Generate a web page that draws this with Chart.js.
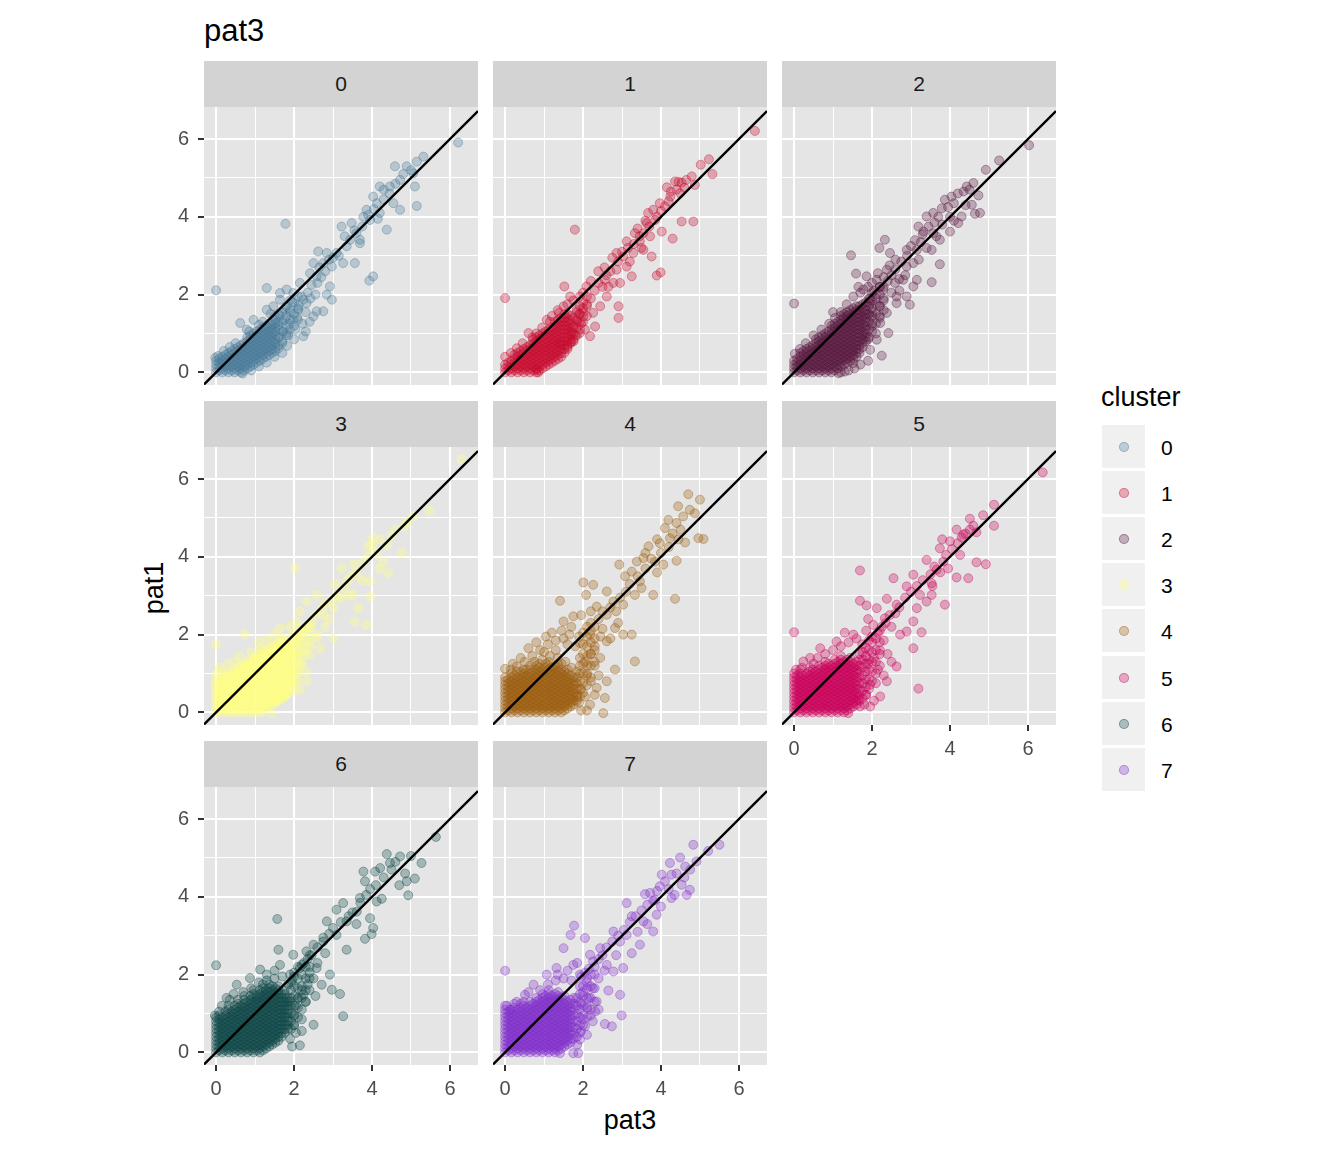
<!DOCTYPE html>
<html>
<head>
<meta charset="utf-8">
<title>pat3 vs pat1 by cluster</title>
<script src="https://cdn.jsdelivr.net/npm/chart.js@4.4.1/dist/chart.umd.min.js"></script>
<style>
  html, body { margin: 0; padding: 0; background: #ffffff; }
  body { position: relative; width: 1344px; height: 1152px; overflow: hidden;
         font-family: "Liberation Sans", Arial, sans-serif; }
  canvas, .strip, .txt, .key, .dot { position: absolute; }
  .strip { background: #D3D3D3; color: #1A1A1A; font-size: 21px;
           display: flex; align-items: center; justify-content: center; }
  .txt { line-height: 1; white-space: nowrap; }
  .key { width: 43px; height: 43px; background: #F0F0F0; }
  .dot { width: 10px; height: 10px; border-radius: 50%; box-sizing: border-box; }
</style>
</head>
<body>
<div class="txt" style="left:204px;top:15px;font-size:31px;color:#000">pat3</div>
<div class="txt" style="left:630px;top:1107px;font-size:27px;color:#000;transform:translateX(-50%)">pat3</div>
<div class="txt" style="left:154px;top:588px;font-size:27px;color:#000;transform:translate(-50%,-50%) rotate(-90deg)">pat1</div>
<div class="txt" style="left:1101px;top:384px;font-size:27px;color:#000">cluster</div>

<script>
/* ---------- data ---------- */

const clusters = ['0', '1', '2', '3', '4', '5', '6', '7'];
const clusterColors = ['#487A98', '#C80A2E', '#581840', '#FFFF85', '#9A5D0E', '#C9005A', '#0E4647', '#812FCA'];

const xRange = [-0.31, 6.72];   // pat3
const yRange = [-0.325, 6.825]; // pat1
const tickValues = [0, 1, 2, 3, 4, 5, 6]; // labels on even values, minor grid on odd
const abline = { intercept: 0, slope: 1 };

// dense cores near the origin: [pat3, [pat1 values]]
const core0 = [
  [0, [0, .1, .2, .3]], [.08, [.05, .15, .25, .35]], [.16, [0, .1, .2, .3, .4]],
  [.24, [.05, .15, .25, .35, .45]], [.32, [0, .1, .2, .3, .4, .5]], [.4, [.05, .15, .25, .35, .45, .55]],
  [.48, [0, .1, .2, .3, .4, .5, .6]], [.56, [.05, .15, .25, .35, .45, .55, .65]],
  [.64, [0, .1, .2, .3, .4, .5, .6, .7]], [.72, [.05, .15, .25, .35, .45, .55, .65, .75]],
  [.8, [.1, .2, .3, .4, .5, .6, .7, .8, .9]], [.88, [.15, .25, .35, .45, .55, .65, .75, .85, .95]],
  [.96, [.2, .3, .4, .5, .6, .7, .8, .9, 1]], [1.04, [.25, .35, .45, .55, .65, .75, .85, .95, 1.05]],
  [1.12, [.3, .4, .5, .6, .7, .8, .9, 1, 1.1]], [1.2, [.35, .45, .55, .65, .75, .85, .95, 1.05, 1.15]],
  [1.28, [.4, .5, .6, .7, .8, .9, 1, 1.1, 1.2]], [1.36, [.45, .55, .65, .75, .85, .95, 1.05, 1.15, 1.25]],
  [1.44, [.5, .6, .7, .8, .9, 1, 1.1, 1.2, 1.3]], [1.52, [.55, .65, .75, .85, .95, 1.05, 1.15, 1.25, 1.35]],
  [1.6, [.7, .9, 1.1, 1.3, 1.5]], [1.7, [.8, 1.05, 1.3, 1.55]], [1.8, [.95, 1.2, 1.45, 1.7]],
  [1.9, [1.1, 1.35, 1.6, 1.85]], [2, [1.2, 1.5, 1.8]], [2.1, [1.35, 1.65, 1.95]],
];
const core1 = [
  [0, [0, .1, .2]], [.08, [.05, .15, .25]], [.16, [0, .1, .2, .3]], [.24, [.05, .15, .25, .35, .45]],
  [.32, [0, .1, .2, .3, .4, .5]], [.4, [.05, .15, .25, .35, .45, .55]], [.48, [0, .1, .2, .3, .4, .5, .6]],
  [.56, [.05, .15, .25, .35, .45, .55, .65]], [.64, [0, .1, .2, .3, .4, .5, .6, .7]],
  [.72, [.05, .15, .25, .35, .45, .55, .65, .75, .85]], [.8, [0, .1, .2, .3, .4, .5, .6, .7, .8, .9]],
  [.88, [.05, .15, .25, .35, .45, .55, .65, .75, .85, .95]], [.96, [.1, .2, .3, .4, .5, .6, .7, .8, .9, 1]],
  [1.04, [.15, .25, .35, .45, .55, .65, .75, .85, .95, 1.05]], [1.12, [.2, .3, .4, .5, .6, .7, .8, .9, 1, 1.1]],
  [1.2, [.25, .35, .45, .55, .65, .75, .85, .95, 1.05, 1.15]], [1.28, [.3, .4, .5, .6, .7, .8, .9, 1, 1.1, 1.2, 1.3]],
  [1.36, [.35, .45, .55, .65, .75, .85, .95, 1.05, 1.15, 1.25, 1.35]],
  [1.44, [.4, .5, .6, .7, .8, .9, 1, 1.1, 1.2, 1.3, 1.4]],
  [1.52, [.5, .6, .7, .8, .9, 1, 1.1, 1.2, 1.3, 1.4, 1.5]],
  [1.6, [.6, .7, .8, .9, 1, 1.1, 1.2, 1.3, 1.4, 1.5]], [1.68, [.75, .85, .95, 1.05, 1.15, 1.25, 1.35, 1.45]],
  [1.76, [.8, 1, 1.2, 1.4]], [1.84, [.95, 1.15, 1.35, 1.55]], [1.92, [1.1, 1.3, 1.5, 1.7]],
  [2, [1.3, 1.55, 1.8]], [2.1, [1.45, 1.7, 1.95]],
];
const core2 = [
  [0, [0, .1, .2, .3]], [.08, [.05, .15, .25, .35]], [.16, [0, .1, .2, .3, .4, .5]],
  [.24, [.05, .15, .25, .35, .45, .55]], [.32, [0, .1, .2, .3, .4, .5, .6]],
  [.4, [.05, .15, .25, .35, .45, .55, .65]], [.48, [0, .1, .2, .3, .4, .5, .6, .7]],
  [.56, [.05, .15, .25, .35, .45, .55, .65, .75, .85]], [.64, [0, .1, .2, .3, .4, .5, .6, .7, .8, .9]],
  [.72, [.05, .15, .25, .35, .45, .55, .65, .75, .85, .95]], [.8, [0, .1, .2, .3, .4, .5, .6, .7, .8, .9, 1]],
  [.88, [.05, .15, .25, .35, .45, .55, .65, .75, .85, .95, 1.05]],
  [.96, [0, .1, .2, .3, .4, .5, .6, .7, .8, .9, 1, 1.1, 1.2]],
  [1.04, [.05, .15, .25, .35, .45, .55, .65, .75, .85, .95, 1.05, 1.15, 1.25]],
  [1.12, [.1, .2, .3, .4, .5, .6, .7, .8, .9, 1, 1.1, 1.2, 1.3]],
  [1.2, [.15, .25, .35, .45, .55, .65, .75, .85, .95, 1.05, 1.15, 1.25, 1.35, 1.45]],
  [1.28, [.2, .3, .4, .5, .6, .7, .8, .9, 1, 1.1, 1.2, 1.3, 1.4, 1.5]],
  [1.36, [.25, .35, .45, .55, .65, .75, .85, .95, 1.05, 1.15, 1.25, 1.35, 1.45, 1.55]],
  [1.44, [.3, .4, .5, .6, .7, .8, .9, 1, 1.1, 1.2, 1.3, 1.4, 1.5, 1.6]],
  [1.52, [.35, .45, .55, .65, .75, .85, .95, 1.05, 1.15, 1.25, 1.35, 1.45, 1.55, 1.65]],
  [1.6, [.4, .5, .6, .7, .8, .9, 1, 1.1, 1.2, 1.3, 1.4, 1.5, 1.6, 1.7]],
  [1.68, [.5, .6, .7, .8, .9, 1, 1.1, 1.2, 1.3, 1.4, 1.5, 1.6, 1.7]],
  [1.76, [.65, .75, .85, .95, 1.05, 1.15, 1.25, 1.35, 1.45, 1.55, 1.65, 1.75]],
  [1.84, [.8, .9, 1, 1.1, 1.2, 1.3, 1.4, 1.5, 1.6, 1.7, 1.8]],
  [1.92, [.9, 1.1, 1.3, 1.5, 1.7, 1.9]], [2, [1.05, 1.25, 1.45, 1.65, 1.85, 2.05]],
  [2.1, [1.25, 1.5, 1.75, 2]], [2.2, [1.4, 1.7, 2, 2.2]], [2.3, [1.6, 1.9, 2.2]],
];
const core3 = [
  [0, [0, .1, .2, .3, .4, .5, .6, .7, .8]], [.08, [.05, .15, .25, .35, .45, .55, .65, .75, .85]],
  [.16, [0, .1, .2, .3, .4, .5, .6, .7, .8, .9]], [.24, [.05, .15, .25, .35, .45, .55, .65, .75, .85, .95]],
  [.32, [0, .1, .2, .3, .4, .5, .6, .7, .8, .9, 1]], [.4, [.05, .15, .25, .35, .45, .55, .65, .75, .85, .95, 1.05]],
  [.48, [0, .1, .2, .3, .4, .5, .6, .7, .8, .9, 1, 1.1]],
  [.56, [.05, .15, .25, .35, .45, .55, .65, .75, .85, .95, 1.05, 1.15]],
  [.64, [0, .1, .2, .3, .4, .5, .6, .7, .8, .9, 1, 1.1, 1.2]],
  [.72, [.05, .15, .25, .35, .45, .55, .65, .75, .85, .95, 1.05, 1.15, 1.25]],
  [.8, [0, .1, .2, .3, .4, .5, .6, .7, .8, .9, 1, 1.1, 1.2, 1.3]],
  [.88, [.05, .15, .25, .35, .45, .55, .65, .75, .85, .95, 1.05, 1.15, 1.25, 1.35]],
  [.96, [0, .1, .2, .3, .4, .5, .6, .7, .8, .9, 1, 1.1, 1.2, 1.3, 1.4]],
  [1.04, [.05, .15, .25, .35, .45, .55, .65, .75, .85, .95, 1.05, 1.15, 1.25, 1.35, 1.45]],
  [1.12, [0, .1, .2, .3, .4, .5, .6, .7, .8, .9, 1, 1.1, 1.2, 1.3, 1.4, 1.5]],
  [1.2, [.05, .15, .25, .35, .45, .55, .65, .75, .85, .95, 1.05, 1.15, 1.25, 1.35, 1.45, 1.55]],
  [1.28, [.1, .2, .3, .4, .5, .6, .7, .8, .9, 1, 1.1, 1.2, 1.3, 1.4, 1.5, 1.6]],
  [1.36, [.15, .25, .35, .45, .55, .65, .75, .85, .95, 1.05, 1.15, 1.25, 1.35, 1.45, 1.55, 1.65]],
  [1.44, [.2, .3, .4, .5, .6, .7, .8, .9, 1, 1.1, 1.2, 1.3, 1.4, 1.5, 1.6, 1.7]],
  [1.52, [.25, .35, .45, .55, .65, .75, .85, .95, 1.05, 1.15, 1.25, 1.35, 1.45, 1.55, 1.65, 1.75]],
  [1.6, [.3, .4, .5, .6, .7, .8, .9, 1, 1.1, 1.2, 1.3, 1.4, 1.5, 1.6, 1.7, 1.8]],
  [1.68, [.35, .45, .55, .65, .75, .85, .95, 1.05, 1.15, 1.25, 1.35, 1.45, 1.55, 1.65, 1.75, 1.85]],
  [1.76, [.4, .5, .6, .7, .8, .9, 1, 1.1, 1.2, 1.3, 1.4, 1.5, 1.6, 1.7, 1.8]],
  [1.84, [.5, .6, .7, .8, .9, 1, 1.1, 1.2, 1.3, 1.4, 1.5, 1.6, 1.7, 1.8]],
  [1.92, [.6, .7, .8, .9, 1, 1.1, 1.2, 1.3, 1.4, 1.5, 1.6, 1.7, 1.8, 1.9]],
  [2, [.8, .95, 1.1, 1.25, 1.4, 1.55, 1.7, 1.85, 2]], [2.1, [1, 1.2, 1.4, 1.6, 1.8, 2]],
  [2.2, [1.3, 1.55, 1.8, 2.05]], [2.3, [1.5, 1.8, 2.1]], [2.4, [1.7, 2, 2.3]],
];
const core4 = [
  [0, [0, .1, .2, .3, .4, .5, .6, .7, .8, .9]], [.08, [.05, .15, .25, .35, .45, .55, .65, .75, .85]],
  [.16, [0, .1, .2, .3, .4, .5, .6, .7, .8, .9, 1]], [.24, [.05, .15, .25, .35, .45, .55, .65, .75, .85, .95]],
  [.32, [0, .1, .2, .3, .4, .5, .6, .7, .8, .9]], [.4, [.05, .15, .25, .35, .45, .55, .65, .75, .85, .95, 1.05]],
  [.48, [0, .1, .2, .3, .4, .5, .6, .7, .8, .9, 1, 1.1]], [.56, [.05, .15, .25, .35, .45, .55, .65, .75, .85, .95]],
  [.64, [0, .1, .2, .3, .4, .5, .6, .7, .8, .9, 1, 1.1, 1.2]],
  [.72, [.05, .15, .25, .35, .45, .55, .65, .75, .85, .95, 1.05]],
  [.8, [0, .1, .2, .3, .4, .5, .6, .7, .8, .9, 1, 1.1, 1.2]],
  [.88, [.05, .15, .25, .35, .45, .55, .65, .75, .85, .95, 1.05, 1.15, 1.25]],
  [.96, [0, .1, .2, .3, .4, .5, .6, .7, .8, .9, 1, 1.1]],
  [1.04, [.05, .15, .25, .35, .45, .55, .65, .75, .85, .95, 1.05, 1.15, 1.25]],
  [1.12, [0, .1, .2, .3, .4, .5, .6, .7, .8, .9, 1, 1.1, 1.2, 1.3]],
  [1.2, [.05, .15, .25, .35, .45, .55, .65, .75, .85, .95, 1.05, 1.15]],
  [1.28, [0, .1, .2, .3, .4, .5, .6, .7, .8, .9, 1, 1.1, 1.2]],
  [1.36, [.05, .15, .25, .35, .45, .55, .65, .75, .85, .95, 1.05, 1.15, 1.25]],
  [1.44, [0, .1, .2, .3, .4, .5, .6, .7, .8, .9, 1, 1.1]],
  [1.52, [.05, .15, .25, .35, .45, .55, .65, .75, .85, .95, 1.05]],
  [1.6, [.1, .2, .3, .4, .5, .6, .7, .8, .9, 1, 1.1]], [1.68, [.15, .25, .35, .45, .55, .65, .75, .85, .95]],
  [1.76, [.2, .3, .4, .5, .6, .7, .8, .9]], [1.84, [.3, .45, .6, .75, .9, 1.05]],
  [1.92, [.4, .6, .8, 1, 1.2, 1.4]], [2, [.5, .75, 1, 1.25, 1.5, 1.75]],
  [2.1, [.7, .95, 1.2, 1.45, 1.7, 1.95]], [2.2, [.9, 1.2, 1.5, 1.8, 2.1]], [2.3, [1.3, 1.6, 1.9, 2.2]],
];
const core5 = [
  [0, [0, .1, .2, .3, .4, .5, .6, .7, .8, .9, 1]], [.08, [.05, .15, .25, .35, .45, .55, .65, .75, .85, .95]],
  [.16, [0, .1, .2, .3, .4, .5, .6, .7, .8, .9, 1, 1.1]], [.24, [.05, .15, .25, .35, .45, .55, .65, .75, .85, .95]],
  [.32, [0, .1, .2, .3, .4, .5, .6, .7, .8, .9, 1]],
  [.4, [.05, .15, .25, .35, .45, .55, .65, .75, .85, .95, 1.05, 1.15]],
  [.48, [0, .1, .2, .3, .4, .5, .6, .7, .8, .9, 1, 1.1]],
  [.56, [.05, .15, .25, .35, .45, .55, .65, .75, .85, .95, 1.05]],
  [.64, [0, .1, .2, .3, .4, .5, .6, .7, .8, .9, 1, 1.1, 1.2]],
  [.72, [.05, .15, .25, .35, .45, .55, .65, .75, .85, .95, 1.05, 1.15]],
  [.8, [0, .1, .2, .3, .4, .5, .6, .7, .8, .9, 1, 1.1, 1.2, 1.3]],
  [.88, [.05, .15, .25, .35, .45, .55, .65, .75, .85, .95, 1.05, 1.15, 1.25]],
  [.96, [0, .1, .2, .3, .4, .5, .6, .7, .8, .9, 1, 1.1, 1.2]],
  [1.04, [.05, .15, .25, .35, .45, .55, .65, .75, .85, .95, 1.05, 1.15, 1.25, 1.35]],
  [1.12, [0, .1, .2, .3, .4, .5, .6, .7, .8, .9, 1, 1.1, 1.2, 1.3]],
  [1.2, [.05, .15, .25, .35, .45, .55, .65, .75, .85, .95, 1.05, 1.15, 1.25, 1.35, 1.45]],
  [1.28, [0, .1, .2, .3, .4, .5, .6, .7, .8, .9, 1, 1.1, 1.2, 1.3]],
  [1.36, [.05, .15, .25, .35, .45, .55, .65, .75, .85, .95, 1.05, 1.15, 1.25, 1.35]],
  [1.44, [.1, .2, .3, .4, .5, .6, .7, .8, .9, 1, 1.1, 1.2, 1.3, 1.4]],
  [1.52, [.15, .25, .35, .45, .55, .65, .75, .85, .95, 1.05, 1.15, 1.25]],
  [1.6, [.2, .3, .4, .5, .6, .7, .8, .9, 1, 1.1, 1.2, 1.3]],
  [1.68, [.3, .45, .6, .75, .9, 1.05, 1.2, 1.35, 1.5]],
  [1.76, [.35, .55, .75, .95, 1.15, 1.35, 1.55]], [1.84, [.45, .65, .85, 1.05, 1.25, 1.45, 1.65]],
  [1.92, [.6, .85, 1.1, 1.35, 1.6, 1.85]], [2, [.8, 1.05, 1.3, 1.55, 1.8]],
  [2.1, [1, 1.3, 1.6, 1.9]], [2.2, [1.2, 1.5, 1.8, 2.1]],
];
const core6 = [
  [0, [0, .1, .2, .3, .4, .5, .6, .7, .8, .9]], [.08, [.05, .15, .25, .35, .45, .55, .65, .75, .85, .95, 1.05]],
  [.16, [0, .1, .2, .3, .4, .5, .6, .7, .8, .9]], [.24, [.05, .15, .25, .35, .45, .55, .65, .75, .85, .95, 1.05]],
  [.32, [0, .1, .2, .3, .4, .5, .6, .7, .8, .9, 1, 1.1, 1.2]],
  [.4, [.05, .15, .25, .35, .45, .55, .65, .75, .85, .95, 1.05]],
  [.48, [0, .1, .2, .3, .4, .5, .6, .7, .8, .9, 1, 1.1, 1.2]],
  [.56, [.05, .15, .25, .35, .45, .55, .65, .75, .85, .95, 1.05, 1.15, 1.25, 1.35]],
  [.64, [0, .1, .2, .3, .4, .5, .6, .7, .8, .9, 1, 1.1, 1.2]],
  [.72, [.05, .15, .25, .35, .45, .55, .65, .75, .85, .95, 1.05, 1.15, 1.25, 1.35, 1.45]],
  [.8, [0, .1, .2, .3, .4, .5, .6, .7, .8, .9, 1, 1.1, 1.2, 1.3]],
  [.88, [.05, .15, .25, .35, .45, .55, .65, .75, .85, .95, 1.05, 1.15, 1.25, 1.35, 1.45]],
  [.96, [0, .1, .2, .3, .4, .5, .6, .7, .8, .9, 1, 1.1, 1.2, 1.3, 1.4, 1.5, 1.6]],
  [1.04, [.05, .15, .25, .35, .45, .55, .65, .75, .85, .95, 1.05, 1.15, 1.25, 1.35, 1.45]],
  [1.12, [0, .1, .2, .3, .4, .5, .6, .7, .8, .9, 1, 1.1, 1.2, 1.3, 1.4, 1.5, 1.6]],
  [1.2, [.05, .15, .25, .35, .45, .55, .65, .75, .85, .95, 1.05, 1.15, 1.25, 1.35, 1.45, 1.55, 1.65, 1.75]],
  [1.28, [.1, .2, .3, .4, .5, .6, .7, .8, .9, 1, 1.1, 1.2, 1.3, 1.4, 1.5, 1.6]],
  [1.36, [.15, .25, .35, .45, .55, .65, .75, .85, .95, 1.05, 1.15, 1.25, 1.35, 1.45, 1.55, 1.65, 1.75]],
  [1.44, [.2, .3, .4, .5, .6, .7, .8, .9, 1, 1.1, 1.2, 1.3, 1.4, 1.5, 1.6, 1.7]],
  [1.52, [.25, .35, .45, .55, .65, .75, .85, .95, 1.05, 1.15, 1.25, 1.35, 1.45, 1.55, 1.65]],
  [1.6, [.3, .4, .5, .6, .7, .8, .9, 1, 1.1, 1.2, 1.3, 1.4, 1.5, 1.6, 1.7]],
  [1.68, [.4, .5, .6, .7, .8, .9, 1, 1.1, 1.2, 1.3, 1.4, 1.5]],
  [1.76, [.5, .6, .7, .8, .9, 1, 1.1, 1.2, 1.3, 1.4, 1.5, 1.6]],
  [1.84, [.6, .7, .8, .9, 1, 1.1, 1.2, 1.3, 1.4]],
  [1.92, [.6, .8, 1, 1.2, 1.4, 1.6, 1.8]], [2, [.7, .95, 1.2, 1.45, 1.7, 1.95]],
  [2.1, [.9, 1.15, 1.4, 1.65, 1.9]], [2.2, [1.1, 1.4, 1.7, 2, 2.25]], [2.3, [1.3, 1.6, 1.9, 2.2]],
  [2.4, [1.6, 1.9, 2.2, 2.5]],
];
const core7 = [
  [0, [0, .1, .2, .3, .4, .5, .6, .7, .8, .9, 1, 1.1, 1.2]],
  [.08, [.05, .15, .25, .35, .45, .55, .65, .75, .85, .95, 1.05]],
  [.16, [0, .1, .2, .3, .4, .5, .6, .7, .8, .9, 1, 1.1]],
  [.24, [.05, .15, .25, .35, .45, .55, .65, .75, .85, .95, 1.05, 1.15, 1.25]],
  [.32, [0, .1, .2, .3, .4, .5, .6, .7, .8, .9, 1, 1.1]],
  [.4, [.05, .15, .25, .35, .45, .55, .65, .75, .85, .95, 1.05, 1.15, 1.25]],
  [.48, [0, .1, .2, .3, .4, .5, .6, .7, .8, .9, 1, 1.1, 1.2, 1.3]],
  [.56, [.05, .15, .25, .35, .45, .55, .65, .75, .85, .95, 1.05, 1.15]],
  [.64, [0, .1, .2, .3, .4, .5, .6, .7, .8, .9, 1, 1.1, 1.2, 1.3]],
  [.72, [.05, .15, .25, .35, .45, .55, .65, .75, .85, .95, 1.05, 1.15, 1.25]],
  [.8, [0, .1, .2, .3, .4, .5, .6, .7, .8, .9, 1, 1.1, 1.2, 1.3, 1.4]],
  [.88, [.05, .15, .25, .35, .45, .55, .65, .75, .85, .95, 1.05, 1.15, 1.25, 1.35]],
  [.96, [0, .1, .2, .3, .4, .5, .6, .7, .8, .9, 1, 1.1, 1.2, 1.3, 1.4, 1.5]],
  [1.04, [.05, .15, .25, .35, .45, .55, .65, .75, .85, .95, 1.05, 1.15, 1.25, 1.35, 1.45]],
  [1.12, [0, .1, .2, .3, .4, .5, .6, .7, .8, .9, 1, 1.1, 1.2, 1.3, 1.4, 1.5, 1.6]],
  [1.2, [.05, .15, .25, .35, .45, .55, .65, .75, .85, .95, 1.05, 1.15, 1.25, 1.35, 1.45]],
  [1.28, [0, .1, .2, .3, .4, .5, .6, .7, .8, .9, 1, 1.1, 1.2, 1.3, 1.4, 1.5]],
  [1.36, [.05, .15, .25, .35, .45, .55, .65, .75, .85, .95, 1.05, 1.15, 1.25, 1.35, 1.45, 1.55]],
  [1.44, [.1, .2, .3, .4, .5, .6, .7, .8, .9, 1, 1.1, 1.2, 1.3, 1.4]],
  [1.52, [.15, .25, .35, .45, .55, .65, .75, .85, .95, 1.05, 1.15, 1.25, 1.35, 1.45]],
  [1.6, [.2, .3, .4, .5, .6, .7, .8, .9, 1, 1.1, 1.2, 1.3]],
  [1.68, [.25, .35, .45, .55, .65, .75, .85, .95, 1.05, 1.15, 1.25, 1.35]],
  [1.76, [.35, .5, .65, .8, .95, 1.1, 1.25, 1.4]], [1.84, [.4, .6, .8, 1, 1.2, 1.4]],
  [1.92, [.5, .7, .9, 1.1, 1.3, 1.5, 1.7]], [2, [.7, .95, 1.2, 1.45, 1.7]],
  [2.1, [.9, 1.15, 1.4, 1.65, 1.9]], [2.2, [1.1, 1.4, 1.7, 2]], [2.3, [1.3, 1.65, 2]],
];

// scattered points along the diagonal and outliers: [pat3, pat1]
const spread0 = [
  [6.21, 5.91], [5.32, 5.55], [5.15, 5.42], [4.89, 5.3], [5.06, 5.12], [4.59, 5.3], [4.72, 4.95], [4.46, 4.78],
  [4.2, 4.78], [4.03, 4.52], [4.12, 4.35], [3.86, 4.18], [3.78, 4], [3.95, 3.92], [4.2, 4.1], [4.55, 4.35],
  [5.1, 4.78], [5.15, 4.28], [4.72, 4.18], [4.38, 3.67], [4.03, 2.47], [3.93, 2.36], [1.78, 3.82], [0, 2.11],
  [1.3, 2.17], [3.22, 3.75], [3.48, 3.84], [3.6, 3.58], [3.69, 3.32], [3.35, 3.24], [3.09, 3.07], [2.84, 3.07],
  [2.62, 3.11], [2.75, 2.81], [2.97, 2.72], [3.26, 2.81], [3.56, 2.81], [3.69, 3.41], [3.44, 3.41], [2.5, 2.81],
  [2.41, 2.55], [2.58, 2.47], [2.92, 2.21], [2.84, 2], [2.97, 1.87], [2.75, 1.57], [2.58, 1.57], [2.5, 1.44],
  [2.15, 2.3], [1.98, 2.04], [2.24, 1.87], [2.32, 1.78], [2.11, 1.61], [1.81, 2.13], [1.64, 1.87], [1.98, 1.35],
  [2.24, .93], [1.81, 1.01], [.62, 1.27], [.79, 1.1], [.96, 1.35], [1.3, 1.61], [1.47, 1.7], [1.64, 2.04],
  [.68, -.03], [1.6, .62], [1.62, .9], [1.6, 1.2], [1.63, 1.45], [1.7, .75], [1.72, 1.05], [1.75, 1.35],
  [1.78, 1.62], [1.82, .68], [1.85, .95], [1.88, 1.25], [1.9, 1.55], [1.95, 1.8], [2, .85], [2.03, 1.1],
  [2.08, 1.42], [2.12, 1.72], [2.2, 1.95], [2.22, 1.25], [2.3, 1.55], [2.35, 2.05], [2.42, 1.9], [2.45, 2.25],
  [2.3, 1.05], [2.4, 1.3], [2.55, 2], [2.6, 2.3], [2.7, 2.45], [2.8, 2.6], [2.9, 2.9], [3, 2.95], [3.15, 3],
  [3.3, 3.5], [3.55, 3.65], [3.75, 3.75], [3.9, 4.05], [4.05, 4.2], [4.3, 4.45], [4.45, 4.6], [4.6, 4.85],
  [4.8, 5.1], [5, 5.2], [4.3, 4.7], [4.15, 3.95], [2.65, 2.7], [1.5, 1.45], [1.4, 1.5], [1.2, 1.3],
  [1.1, 1.22], [.85, 1.05], [.5, .75], [.35, .65], [.2, .55], [.05, .42], [-.02, .38], [1.7, .5],
  [1.5, .4], [1.3, .25], [1.1, .15], [.9, .05],
];
const spread1 = [
  [6.41, 6.21], [5.23, 5.48], [5.02, 5.34], [5.32, 5.1], [4.79, 5.04], [4.87, 4.82], [4.53, 4.88], [4.36, 4.91],
  [4.15, 4.76], [4.49, 4.61], [4.24, 4.52], [3.97, 4.35], [3.8, 4.18], [4.1, 4.27], [3.67, 4.1], [3.63, 3.84],
  [3.85, 3.92], [4.53, 3.88], [4.83, 3.88], [4.3, 3.44], [4.02, 3.62], [3.55, 3.58], [3.33, 3.58], [3.12, 3.37],
  [3.46, 3.37], [3.72, 3.5], [3.76, 2.98], [3.55, 3.15], [3.29, 3.07], [3.03, 2.98], [2.86, 3.07], [3.12, 2.72],
  [2.86, 2.64], [3.25, 2.47], [2.95, 2.3], [2.78, 2.3], [2.56, 2.38], [2.39, 2.6], [3.89, 2.49], [3.99, 2.57],
  [1.79, 3.67], [0, 1.91], [1.52, 2.21], [2.09, 2.21], [2.61, 1.95], [2.44, 1.7], [2.91, 1.7], [2.91, 1.4],
  [2.26, 1.53], [2.01, 1.44], [2.31, 1.18], [1.92, 1.01], [2.18, .93], [1.75, .84], [1.41, .75], [1.84, 1.61],
  [1.67, 1.95], [1.92, 1.95], [1.38, 1.53], [1.07, 1.35], [.6, 1.01], [.85, 0], [.81, .07],
  [4.4, 4.7], [4.6, 4.75], [4.2, 4.4], [4, 4.15], [3.9, 4], [3.7, 3.75], [3.45, 3.5], [3.3, 3.3], [3.15, 3.2],
  [3, 3.1], [2.9, 2.85], [2.7, 2.6], [2.6, 2.5], [2.5, 2.2], [2.4, 2.3], [2.3, 2.1], [2.2, 1.9], [2.1, 1.75],
  [2, 1.65], [1.9, 1.5], [1.85, 1.3], [1.75, 1.15], [1.7, 1], [1.95, 1.25], [2.05, 1.1], [1.8, .95], [1.6, .65],
  [1.7, .78], [1.5, 1.7], [1.35, 1.6], [1.2, 1.45], [1.15, 1.3], [.95, 1.15], [.8, 1], [.7, .9], [.45, .75],
  [.3, .62], [.15, .5], [0, .4], [2.2, 2.35], [2, 2.05], [1.6, 1.75], [1.75, 1.85], [2.55, 2.7], [2.75, 2.95],
  [3.4, 3.7], [3.6, 3.9], [4.45, 4.9], [4.65, 4.95], [4.25, 4.65], [3.2, 2.85], [3.5, 3.2], [2.65, 2.2],
];
const spread2 = [
  [6.03, 5.84], [5.26, 5.45], [4.92, 5.21], [4.6, 4.87], [4.43, 4.78], [4.73, 4.55], [4.56, 4.31], [4.77, 4.1],
  [4.64, 4.08], [4.3, 4.01], [4.21, 3.84], [4.04, 4.52], [3.87, 4.44], [3.79, 4.22], [3.57, 4.1], [3.4, 4.01],
  [3.19, 3.75], [3.32, 3.62], [3.57, 3.58], [4, 3.62], [3.74, 3.41], [3.53, 3.15], [3.15, 3.15], [2.89, 3.15],
  [3.06, 2.81], [2.89, 2.72], [3.74, 2.78], [3.53, 2.32], [3.15, 2.38], [3.06, 2.21], [2.8, 2.38], [2.59, 2.3],
  [2.46, 3.07], [2.19, 3.2], [1.46, 3.01], [2.33, 3.41], [1.59, 2.54], [1.86, 2.47], [2.12, 2.38], [2.38, 2.64],
  [2.29, 2.13], [2.63, 1.95], [2.89, 1.95], [2.97, 1.74], [2.63, 1.78], [2.38, 1.53], [2.21, 1.27], [2.42, 1.01],
  [2.12, .84], [1.95, .58], [2.25, .43], [1.52, .24], [1.14, -.02], [0, 1.77], [1.95, 1.78], [1.78, 2.13],
  [1.52, 1.95], [4.1, 4.35], [4.2, 4.6], [4.35, 4.65], [4.5, 4.7], [3.95, 4.25], [3.7, 4], [3.6, 3.85],
  [3.45, 3.75], [3.3, 3.55], [3, 3.25], [2.9, 3], [2.75, 2.85], [2.6, 2.65], [2.5, 2.5], [2.4, 2.35],
  [2.3, 2.45], [2.2, 2.2], [2.05, 2.1], [2, 2.3], [2.1, 1.9], [2.2, 1.7], [2, 1.55], [2.3, 1.85], [2.5, 2.05],
  [2.7, 2.1], [2.85, 2.5], [3.2, 2.9], [3.4, 3.2], [3.8, 3.8], [4, 4], [4.4, 4.3], [2.45, 2.75], [2.15, 2.55],
  [1.9, 2.2], [1.7, 2.05], [1.95, 1.9], [2, 1.2], [2.1, 1], [1.9, .85], [2.2, 1.45], [1.95, 1.45], [1.9, .3],
  [1.7, .2], [1.55, .1], [1.4, .05], [1.3, .02], [1.2, 0], [1.35, 1.75], [1.2, 1.55], [1.05, 1.4], [.9, 1.25],
  [.7, 1.1], [.5, .95], [.3, .75], [.15, .6], [.02, .48], [1.65, 2.2], [2.6, 2.9], [3.1, 3.4], [3.25, 3.35],
  [3.65, 3.5], [4.1, 3.9], [2.7, 2.4], [1, 1.55],
];
const spread3 = [
  [6.3, 6.51], [5.47, 5.18], [5.06, 5.04], [4.82, 4.78], [4.77, 4.1], [4.38, 4.31], [4.03, 4.48], [3.91, 4.27],
  [4.29, 3.88], [4.41, 3.58], [3.95, 3.37], [3.95, 2.98], [3.86, 2.25], [3.56, 2.34], [3.65, 2.68], [3.52, 3.02],
  [3.35, 3.37], [3.22, 3.71], [3.52, 3.8], [3.18, 2.94], [3.01, 2.68], [2.75, 2.51], [2.58, 3.02], [2.32, 2.85],
  [2.15, 2.6], [2.03, 3.71], [1.64, 2.17], [2.07, 2.34], [2.41, 2.17], [2.58, 1.91], [3.01, 1.91], [2.67, 1.65],
  [2.41, 1.48], [.74, 2.01], [0, 1.74], [1.3, 1.87], [1.13, 1.65], [.1, 1.16], [2.32, 1.05], [2.07, .8],
  [2.32, .8], [1.43, -.02], [1.81, .45], [1.56, .28], [4, 4.3], [4.2, 4.45], [4.1, 4.1], [3.9, 4], [3.75, 3.85],
  [3.6, 3.6], [3.45, 3.5], [3.3, 3.2], [3.1, 3], [2.95, 2.85], [2.8, 2.8], [2.7, 2.65], [2.55, 2.5], [2.45, 2.3],
  [2.3, 2.2], [2.2, 2], [2.1, 1.85], [2.25, 1.6], [2.4, 1.8], [2, 1.5], [2.1, 1.3], [2.2, 1.2], [2.05, 1.05],
  [2.15, .6], [2, .55], [1.9, .7], [1.7, .4], [1.5, .3], [.5, 1.3], [.3, 1.25], [.6, 1.45], [.9, 1.55],
  [1.1, 1.8], [1.5, 2], [1.7, 1.9], [1.9, 2.2], [2.1, 2.15], [.2, 1], [0, .95], [.05, 1.05], [3.05, 3.3],
  [3.4, 3], [3.75, 3.4], [4.5, 4.55], [4.6, 4.7], [4.9, 4.9], [2.9, 2.4], [2.6, 2], [2.8, 2.2], [4.2, 3.7],
];
const spread4 = [
  [4.7, 5.61], [5, 5.47], [4.44, 5.3], [4.74, 5.21], [4.87, 5.12], [4.57, 5.04], [4.19, 4.95], [4.4, 4.87],
  [4.1, 4.74], [4.96, 4.48], [5.09, 4.46], [4.62, 4.37], [4.23, 4.48], [3.97, 4.35], [3.68, 4.27], [3.55, 3.97],
  [3.85, 3.88], [4.06, 3.8], [4.4, 3.9], [3.38, 3.88], [2.93, 3.8], [3.08, 3.5], [3.25, 3.62], [3.46, 3.37],
  [3.8, 3.02], [4.36, 2.92], [3.33, 3.02], [3.03, 2.77], [2.78, 2.85], [2.61, 3.11], [2.26, 3.28], [2.01, 3.34],
  [2.08, 3.02], [2.35, 2.72], [1.41, 2.87], [2.61, 2.51], [2.82, 2.17], [2.61, 1.83], [3.03, 2], [3.25, 2],
  [3.33, 1.31], [2.82, 1.1], [2.61, .8], [2.56, .37], [2.52, -.02], [2.18, .2], [2.35, .63], [2.44, 1.4],
  [1.92, 1.78], [1.75, 2.47], [1.5, 2.34], [2.18, 2], [0, 1.12], [.3, 1.18], [4.3, 4.6], [4.5, 4.7], [4, 4.1],
  [3.75, 3.95], [3.6, 3.7], [3.4, 3.5], [3.2, 3.3], [3.1, 3.1], [2.95, 2.95], [2.7, 2.7], [2.5, 2.6], [2.4, 2.4],
  [2.2, 2.3], [2.1, 2.2], [2, 2.05], [1.9, 1.95], [2.3, 1.7], [2.45, 1.95], [2.7, 1.9], [2.9, 2.3], [2.5, 2.15],
  [2.2, 1.5], [2.05, 1.3], [2.3, 1.2], [2.1, 1], [2.4, .95], [2.2, .8], [1.95, .6], [2.05, .4], [1.9, .25],
  [2.3, .45], [2.1, .05], [1.95, .05], [1.85, .4], [.5, 1.3], [.7, 1.45], [.9, 1.6], [1.1, 1.75], [1.3, 1.85],
  [1.5, 1.9], [.8, 1.8], [1.05, 1.95], [1.2, 2.05], [1.45, 2.1], [1.65, 2], [1.8, 1.7], [1.3, 1.6], [.4, 1.4],
  [.6, 1.65], [1, 1.55], [1.6, 1.75], [.2, 1.25], [1.7, 2.2], [1.95, 2.5], [2.2, 2.6], [3.6, 4.1], [3.9, 4.45],
  [4.2, 4.25], [4.45, 4.45], [3.5, 3.2], [3.9, 3.6], [2.85, 2.6], [1.15, 1.45], [1.35, 1.4], [.75, 1.3],
  [1.55, 1.3], [.95, 1.35], [.3, 1.05], [.55, 1.1], [1.7, 1.15], [1.45, 1.25], [.15, 1.1],
];
const spread5 = [
  [6.38, 6.17], [5.13, 5.34], [5.13, 4.8], [4.85, 5.07], [4.51, 4.98], [4.17, 4.7], [4.34, 4.57], [4.51, 4.7],
  [4.68, 4.63], [4, 4.4], [3.74, 4.22], [3.4, 3.92], [3.83, 3.88], [4.26, 4.05], [4.68, 3.86], [4.92, 3.81],
  [4.47, 3.45], [4.17, 3.47], [3.66, 3.67], [3.53, 3.32], [3.06, 3.54], [2.55, 3.45], [1.69, 3.65], [2.89, 3.24],
  [3.23, 3.02], [3.53, 3.02], [3.87, 2.77], [3.4, 2.85], [3.15, 2.68], [2.38, 2.92], [1.69, 2.87], [1.86, 2.75],
  [2.12, 2.68], [2.63, 2.77], [2.33, 2.42], [2.03, 2.25], [2.89, 2.08], [3.27, 2.06], [3.06, 2.34], [2.72, 2],
  [3.06, 1.65], [2.63, 1.18], [2.38, .8], [3.19, .61], [1.95, .71], [2.21, .41], [1.95, .15], [1.69, .15],
  [1.39, -.02], [0, 2.06], [.67, 1.65], [1.09, 1.82], [1.52, 2], [.24, 1.31], [.41, 1.4], [4.3, 4.5],
  [4.2, 4.35], [4.4, 4.6], [4.05, 4.2], [3.9, 4.05], [3.6, 3.75], [3.5, 3.55], [3.3, 3.4], [3.15, 3.25], [3, 3.1],
  [2.85, 2.95], [2.7, 2.7], [2.6, 2.55], [2.45, 2.5], [2.35, 2.3], [2.25, 2.2], [2.15, 2.05], [2, 1.95],
  [2.3, 1.85], [2.5, 2.2], [2.2, 1.6], [2.4, 1.5], [2.05, 1.4], [1.9, 1.25], [2.15, 1.1], [2.5, 1.3], [2.3, .95],
  [2.1, .75], [1.85, .45], [1.8, .2], [1.65, .35], [2.05, .3], [.8, 1.5], [1, 1.6], [1.2, 1.7], [1.4, 1.8],
  [1.6, 1.9], [1.75, 1.75], [1.85, 2.1], [.5, 1.25], [.2, 1.15], [.05, 1.1], [.6, 1.4], [1.3, 2.05], [1.9, 2.4],
  [3.55, 3.25], [3.75, 3.6], [3.95, 3.7], [4.6, 4.8], [3.8, 4.45],
];
const spread6 = [
  [5.64, 5.54], [5.27, 4.87], [5.1, 4.47], [4.89, 4.4], [4.93, 4.04], [4.72, 5.04], [4.38, 5.1], [4.46, 4.87],
  [4.21, 4.74], [4.08, 4.65], [3.78, 4.65], [3.82, 4.4], [3.69, 3.97], [4.12, 3.88], [3.95, 3.45], [4.03, 3.2],
  [3.99, 3.04], [3.82, 2.92], [3.61, 3.62], [3.26, 3.84], [3.09, 3.67], [2.84, 3.37], [3.35, 3.37], [3.09, 3.02],
  [2.75, 2.85], [3.35, 2.64], [2.5, 2.77], [2.32, 2.6], [1.57, 3.43], [1.6, 2.64], [1.98, 2.51], [1.64, 2.25],
  [2.15, 2.17], [2.58, 2.17], [2.92, 2], [2.71, 1.74], [2.97, 1.61], [3.18, 1.5], [3.26, .93], [2.5, .71],
  [2.15, .18], [2.24, 1.48], [1.9, 1.31], [.87, 1.91], [1.13, 2.13], [0, 2.24], [-.03, .95], [.53, 1.74],
  [.27, 1.4], [4.5, 4.7], [4.6, 4.9], [4.3, 4.5], [4.1, 4.3], [3.95, 4.2], [3.85, 4.05], [3.7, 3.85], [3.5, 3.6],
  [3.4, 3.5], [3.2, 3.35], [3, 3.2], [2.9, 3.05], [2.75, 2.95], [2.6, 2.7], [2.45, 2.5], [2.35, 2.4], [2.25, 2.3],
  [2.1, 2.2], [2, 2.05], [1.9, 2], [2.4, 2.05], [2.6, 2.3], [2.8, 2.55], [2.5, 1.9], [2.35, 1.75], [2.2, 1.6],
  [2.1, 1.4], [2.05, 1.2], [2.3, 1.3], [2.55, 1.45], [2, .95], [2.2, .85], [2, .7], [2.05, .5], [1.9, .35],
  [1.95, .15], [2.2, .55], [.7, 1.55], [.9, 1.65], [1.1, 1.8], [1.3, 1.85], [1.5, 1.9], [1.7, 1.95], [1.3, 2],
  [1.5, 2.1], [.45, 1.5], [.15, 1.2], [.35, 1.35], [1.85, 1.75], [1.95, 1.85], [4.25, 3.95], [3.6, 3.3],
  [4.85, 4.6], [5, 5.05], [4.7, 4.3],
];
const spread7 = [
  [5.5, 5.34], [5.21, 5.18], [4.83, 5.34], [4.91, 4.91], [4.49, 5.01], [4.23, 4.87], [4.62, 4.78], [4.74, 4.18],
  [4.66, 4.05], [4.53, 4.31], [4.27, 4.57], [4.02, 4.57], [3.97, 4.27], [3.72, 4.1], [3.59, 4.07], [3.85, 3.92],
  [4.27, 3.97], [3.89, 3.54], [3.55, 3.37], [3.12, 3.84], [3.25, 3.5], [2.78, 3.11], [3.12, 3.02], [2.95, 2.85],
  [3.46, 2.77], [3.25, 2.55], [3.8, 3.11], [3.03, 2.17], [2.78, 2.08], [2.61, 2.25], [2.44, 2.68], [2.18, 2.51],
  [2.05, 2.94], [1.77, 3.26], [1.68, 3.02], [1.5, 2.68], [2.26, 2.34], [1.92, 2], [1.75, 2.25], [0, 2.1],
  [2.65, 1.59], [2.95, 1.48], [2.35, 1.31], [2.31, 1.05], [2.99, .95], [2.56, .73], [2.74, .67], [2.05, .67],
  [1.92, .33], [1.75, -.02], [1.41, -.02], [1.88, -.02], [.73, 1.74], [1.07, 2], [1.32, 2.17], [.51, 1.48],
  [.13, 1.1], [4.4, 4.6], [4.1, 4.4], [4.2, 4.2], [3.9, 4.15], [3.8, 3.9], [3.65, 3.8], [3.5, 3.65], [3.35, 3.5],
  [3.2, 3.35], [3.05, 3.15], [2.9, 3], [2.75, 2.85], [2.6, 2.7], [2.5, 2.5], [2.4, 2.4], [2.3, 2.2], [2.15, 2.15],
  [2.05, 2.05], [1.95, 1.95], [2.1, 1.8], [2.25, 1.65], [2.4, 1.9], [2.55, 2.1], [2, 1.55], [2.15, 1.4],
  [1.95, 1.25], [2.1, 1.15], [2.2, .95], [2, .85], [2.25, .8], [2.4, 1.1], [1.95, .55], [1.85, .2], [2.1, .45],
  [.9, 1.6], [1.1, 1.75], [1.3, 1.85], [1.5, 1.9], [1.7, 1.85], [1.6, 2.1], [1.85, 2.3], [1.35, 2], [.3, 1.3],
  [.6, 1.55], [.05, 1.2], [3.4, 3.1], [3.65, 3.3], [4, 3.75], [4.35, 4.05], [4.75, 4.7], [4.6, 4.5], [2.85, 2.5],
];

const coreCols = [core0, core1, core2, core3, core4, core5, core6, core7];
const spreadPts = [spread0, spread1, spread2, spread3, spread4, spread5, spread6, spread7];

/* ---------- layout / style ---------- */

const FONT = '"Liberation Sans", Arial, sans-serif';
const PANEL_BG = '#E5E5E5';
const PANEL_W = 274, PANEL_H = 278, STRIP_H = 46;
const Y_AXIS_W = 44, X_AXIS_H = 40;
const colLeft = [204, 493, 782];
const rowTop = [107, 447, 787];
const withXAxis = [5, 6, 7];

Chart.defaults.font.family = FONT;

function rgba(hex, a) {
  const n = parseInt(hex.slice(1), 16);
  return `rgba(${n >> 16},${(n >> 8) & 255},${n & 255},${a})`;
}

function toPoints(cols, extra) {
  const pts = [];
  cols.forEach(([x, ys]) => ys.forEach((y) => pts.push({ x, y })));
  extra.forEach(([x, y]) => pts.push({ x, y }));
  return pts;
}

const panelBg = {
  id: 'panelBg',
  beforeDraw(chart) {
    const { ctx, chartArea: a } = chart;
    ctx.save();
    ctx.fillStyle = PANEL_BG;
    ctx.fillRect(a.left, a.top, a.right - a.left, a.bottom - a.top);
    ctx.restore();
  },
};

function axis(range, show, isX) {
  const major = (c) => c.tick && c.tick.value % 2 === 0;
  return {
    type: 'linear',
    min: range[0],
    max: range[1],
    afterBuildTicks: (s) => { s.ticks = tickValues.map((v) => ({ value: v })); },
    afterFit: (s) => {
      if (isX) s.height = show ? X_AXIS_H : 0;
      else s.width = show ? Y_AXIS_W : 0;
      s.paddingTop = s.paddingBottom = s.paddingLeft = s.paddingRight = 0;
    },
    border: { display: false },
    grid: {
      color: '#FFFFFF',
      lineWidth: (c) => (major(c) ? 2 : 1),
      drawTicks: show,
      tickLength: 6,
      tickWidth: 2,
      tickColor: (c) => (major(c) ? '#333333' : 'rgba(0,0,0,0)'),
    },
    ticks: {
      display: show,
      autoSkip: false,
      maxRotation: 0,
      padding: isX ? 6 : 9,
      color: '#4D4D4D',
      font: { family: FONT, size: 20 },
      callback: (v) => (v % 2 === 0 ? String(v) : ''),
    },
  };
}

/* ---------- panels ---------- */

const lineData = xRange.map((x) => ({ x, y: abline.intercept + abline.slope * x }));

clusters.forEach((name, i) => {
  const row = Math.floor(i / 3), col = i % 3;
  const hasY = col === 0;
  const hasX = withXAxis.includes(i);

  const strip = document.createElement('div');
  strip.className = 'strip';
  strip.textContent = name;
  Object.assign(strip.style, {
    left: colLeft[col] + 'px', top: (rowTop[row] - STRIP_H) + 'px',
    width: PANEL_W + 'px', height: STRIP_H + 'px',
  });
  document.body.appendChild(strip);

  const canvas = document.createElement('canvas');
  const w = PANEL_W + (hasY ? Y_AXIS_W : 0);
  const h = PANEL_H + (hasX ? X_AXIS_H : 0);
  canvas.width = w;
  canvas.height = h;
  Object.assign(canvas.style, {
    left: (colLeft[col] - (hasY ? Y_AXIS_W : 0)) + 'px', top: rowTop[row] + 'px',
    width: w + 'px', height: h + 'px',
  });
  document.body.appendChild(canvas);

  const color = clusterColors[i];
  new Chart(canvas, {
    type: 'scatter',
    data: {
      datasets: [
        {
          data: lineData, showLine: true, borderColor: '#000000', borderWidth: 2.5,
          pointRadius: 0, order: 0, clip: 0,
        },
        {
          data: toPoints(coreCols[i], spreadPts[i]),
          backgroundColor: rgba(color, 0.3), borderColor: rgba(color, 0.38), borderWidth: 1,
          pointRadius: 4.5, order: 1, clip: 0,
        },
      ],
    },
    options: {
      responsive: false,
      animation: false,
      events: [],
      layout: { padding: 0, autoPadding: false },
      plugins: { legend: { display: false }, tooltip: { enabled: false } },
      scales: { x: axis(xRange, hasX, true), y: axis(yRange, hasY, false) },
    },
    plugins: [panelBg],
  });
});

/* ---------- legend ---------- */

clusters.forEach((name, k) => {
  const top = Math.round(425 + k * 46.1);
  const key = document.createElement('div');
  key.className = 'key';
  key.style.left = '1102px';
  key.style.top = top + 'px';
  document.body.appendChild(key);

  const dot = document.createElement('div');
  dot.className = 'dot';
  Object.assign(dot.style, {
    left: '1119px', top: (top + 17) + 'px',
    background: rgba(clusterColors[k], 0.3), border: '1px solid ' + rgba(clusterColors[k], 0.38),
  });
  document.body.appendChild(dot);

  const label = document.createElement('div');
  label.className = 'txt';
  label.textContent = name;
  Object.assign(label.style, {
    left: '1161px', top: (top + 21.5) + 'px', fontSize: '21px', color: '#000',
    transform: 'translateY(-50%)',
  });
  document.body.appendChild(label);
});
</script>
</body>
</html>
